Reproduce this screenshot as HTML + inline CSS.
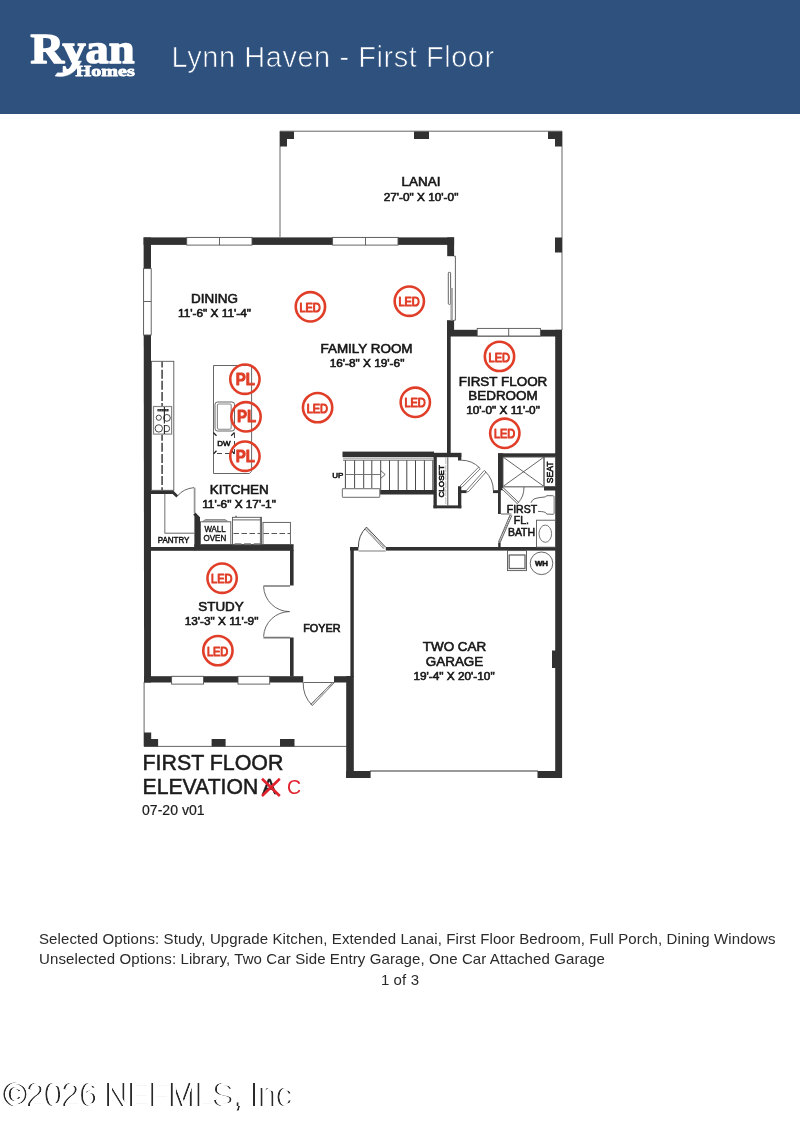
<!DOCTYPE html>
<html>
<head>
<meta charset="utf-8">
<title>Lynn Haven - First Floor</title>
<style>
  html, body { margin:0; padding:0; background:#fff; }
  body > * { will-change: transform; }
  body { width:800px; height:1147px; position:relative; overflow:hidden; font-family:"Liberation Sans", sans-serif; }
  #hdr { position:absolute; left:0; top:0; width:800px; height:114px; background:#2e517e; }
  #plan { position:absolute; left:0; top:0; width:800px; height:1147px; }
  .w { fill:#323132; }
  .t { fill:none; stroke:#555; stroke-width:0.9; }
  .tw { fill:#fff; stroke:#555; stroke-width:0.9; }
  .lbl { font-family:"Liberation Sans", sans-serif; fill:#161616; stroke:#161616; stroke-width:0.58; text-anchor:middle; }
  .red { stroke:#e03e28; fill:none; stroke-width:2.6; }
  .redt { font-family:"Liberation Sans", sans-serif; fill:#e03e28; stroke:#e03e28; stroke-width:1.2; font-size:13px; stroke-linejoin:round; }
  .foot { position:absolute; left:39px; font-size:15px; letter-spacing:0.11px; color:#2a2a2a; white-space:nowrap; line-height:20px; }
</style>
</head>
<body>
<div id="hdr"></div>
<svg id="plan" width="800" height="1147" viewBox="0 0 800 1147">
<!-- HEADER -->
<g id="logo" fill="#fff" stroke="#fff" stroke-linejoin="round" font-family="Liberation Serif, serif" font-weight="bold">
  <text x="30.6" y="62.6" font-size="42" stroke-width="1.5" textLength="104" lengthAdjust="spacingAndGlyphs">Ryan</text>
  <path d="M77 61 C72 69 66 73.6 57.5 72.8 L55 76 C66 78 75 74 81.5 61 Z" stroke-width="0.5"/>
  <text x="75.6" y="76" font-size="15.4" stroke-width="0.8" textLength="59.2" lengthAdjust="spacingAndGlyphs">Homes</text>
</g>
<text x="171.6" y="66.9" font-family="Liberation Sans, sans-serif" font-size="29" fill="#fff" stroke="#2e517e" stroke-width="0.7" textLength="322.6" lengthAdjust="spacing">Lynn Haven - First Floor</text>
<!-- PLAN-START -->
<!-- thin outline: lanai + porch -->
<g class="t">
  <path d="M280 237 V131.2 H562 V330"/>
  <path d="M144.1 682 V746.4 H347"/>
  <path d="M370 771 H538" stroke="#777" stroke-width="1.6"/>
</g>
<!-- WALLS -->
<g class="w">
  <!-- lanai posts -->
  <path d="M280 131.5 H294 V139 H287 V146.5 H280 Z"/>
  <rect x="414" y="131.5" width="15" height="7.5"/>
  <path d="M548 131.5 H562 V146.5 H555 V139 H548 Z"/>
  <rect x="555" y="237.5" width="7" height="15"/>
  <!-- main top wall -->
  <rect x="143.6" y="237.4" width="310.5" height="7.5"/>
  <!-- left wall -->
  <path d="M143.6 237.4 H151 V682.5 H144.1 Z"/>
  <!-- family room right wall -->
  <rect x="447.2" y="237.4" width="6.9" height="18.8"/>
  <rect x="447" y="320.2" width="7.1" height="10"/>
  <!-- bedroom walls -->
  <rect x="447" y="329.8" width="115" height="6.7"/>
  <rect x="447" y="336" width="3.7" height="117"/>
  <rect x="555.2" y="329.8" width="6.9" height="448.2"/>
  <!-- stair walls -->
  <rect x="342.5" y="451.6" width="91.5" height="5.6"/>
  <rect x="433.5" y="452.8" width="27.8" height="4.4"/>
  <rect x="380" y="490" width="54" height="4.5"/>
  <!-- closet -->
  <rect x="433.5" y="453" width="3.3" height="55.2"/>
  <rect x="433.5" y="505.4" width="27.8" height="2.9"/>
  <rect x="458" y="486.2" width="3.3" height="22"/>
  <rect x="458" y="490.2" width="8.6" height="2.9"/>
  <rect x="458" y="453" width="3.3" height="7.5"/>
  <!-- bath -->
  <rect x="498" y="453.3" width="58" height="3.8"/>
  <rect x="498" y="453.3" width="5" height="37"/>
  <rect x="498" y="490" width="2.8" height="24"/>
  <rect x="493" y="490.2" width="6" height="2.9"/>
  <rect x="544" y="486.5" width="12" height="4"/>
  <rect x="498.2" y="542.5" width="2.4" height="5"/>
  <!-- garage -->
  <rect x="350" y="547" width="212" height="3.6"/>
  <rect x="350.4" y="547" width="3.4" height="130"/>
  <rect x="346.2" y="676" width="7.6" height="102"/>
  <rect x="346.2" y="771" width="24.4" height="7"/>
  <rect x="537.5" y="771" width="24.5" height="7"/>
  <rect x="334" y="676.2" width="16.5" height="6.3"/>
  <rect x="552" y="650.5" width="4" height="17.5"/>
  <!-- kitchen/study wall -->
  <rect x="144.2" y="547" width="51" height="3.8"/>
  <rect x="194.4" y="544.2" width="99.2" height="6.6"/>
  <rect x="290" y="550" width="3.6" height="35.5"/>
  <rect x="290" y="637.5" width="3.6" height="39"/>
  <rect x="144.2" y="676.2" width="159" height="6.3"/>
  <!-- pantry -->
  <path d="M194.4 548 V516 L193.2 514.7 L195.4 512.6 L200 517.2 V548 Z"/>
  <path d="M150.8 490.4 H173.2 L178.2 495.6 L176.4 497.6 L172.6 494 H150.8 Z"/>
  <!-- porch posts -->
  <path d="M144 732.5 H151.2 V739 H158.1 V746.5 H144 Z"/>
  <rect x="211.6" y="739" width="14" height="7.5"/>
  <rect x="280" y="739" width="14.5" height="7.5"/>
</g>
<!-- WINDOWS / OPENINGS (white cutouts) -->
<g class="tw">
  <rect x="186.7" y="237.4" width="65.3" height="7.7"/><path d="M219.5 237.4 V245.1"/>
  <rect x="332.6" y="237.4" width="65.4" height="7.7"/><path d="M365.5 237.4 V245.1"/>
  <rect x="143.6" y="268.6" width="7.6" height="66.4"/><path d="M143.6 301.5 H151.2"/>
  <rect x="477.2" y="328.4" width="63.2" height="7.6"/><path d="M508.7 328.4 V336"/>
  <rect x="171.6" y="676.3" width="31.9" height="7.8"/>
  <rect x="238" y="676.3" width="31.7" height="7.8"/>
  <!-- sliding door -->
  <path d="M454 256.2 H455.4 V320.2 H454" fill="none"/>
  <rect x="448.3" y="272.3" width="2.3" height="32" rx="0.8"/>
  <rect x="450.8" y="288.2" width="1.9" height="32" fill="#aaa" stroke="#999" stroke-width="0.5"/>
</g>
<!-- PART2 -->
<!-- KITCHEN COUNTER + RANGE -->
<g class="t">
  <rect x="151.5" y="361.3" width="22.3" height="129"/>
  <path d="M162.1 361.5 V406.5" stroke-dasharray="9 2.1" stroke-dashoffset="2.9" stroke="#555" stroke-width="1.7"/>
  <path d="M162.1 434.4 V490.5" stroke-dasharray="9 2.1" stroke-dashoffset="2.7" stroke="#555" stroke-width="1.7"/>
  <rect x="153.5" y="406.5" width="18.1" height="27.6" fill="#fff" stroke="#888" stroke-width="1.2"/>
  <circle cx="158.8" cy="417.7" r="2.6" stroke="#333"/>
  <circle cx="166.9" cy="417.9" r="3.4" stroke="#333"/>
  <circle cx="158.8" cy="428.4" r="3.7" stroke="#333"/>
  <path d="M164.4 425.6 H167 A2.6 3 0 0 1 167 431.6 H164.4" stroke="#333"/>
  <path d="M157.4 410.2 H168.6" stroke="#333" stroke-width="2.4"/>
  <path d="M158.5 410.2 H168" stroke="#bbb" stroke-width="0.7" stroke-dasharray="1.2 1.2"/>
  <path d="M164.4 407 V423.5 M164.4 425 V434" stroke="#222" stroke-width="1.1"/>
</g>
<!-- ISLAND -->
<g class="t">
  <path d="M213.5 365.5 H251.6 V471.2 L249.4 473.5 H213.5 Z"/>
  <rect x="215" y="402" width="19.5" height="29" rx="2.5"/>
  <rect x="217.4" y="404" width="13.8" height="25.2" rx="1.5" stroke="#888" stroke-width="1.1"/>
  <path d="M213.3 432.5 L216.5 435.8 M234.5 432.5 L231.2 435.8 M213.6 453.7 L216.5 450.8 M234.5 453.7 L231.6 450.8" stroke="#222" stroke-width="1.3"/>
  <path d="M217 453.5 H234.5" stroke-dasharray="5 3" stroke="#333"/>
  <path d="M234.5 433 V453.5" stroke-dasharray="5 3" stroke="#333"/>
</g>
<text class="lbl" x="223.8" y="445.8" font-size="8" stroke-width="0.5">DW</text>
<!-- PANTRY -->
<g class="t">
  <path d="M164.8 494 V533.2" stroke="#888" stroke-width="1.2"/>
  <path d="M164.8 533.2 H194.5"/>
  <path d="M177.5 496 Q183 488.8 194 487.6" />
  <path d="M194.6 487.6 V513" stroke="#999" stroke-width="1.8"/>
</g>
<!-- WALL OVEN / FRIDGE -->
<g class="t">
  <rect x="200.5" y="521.8" width="30.3" height="22.7"/>
  <path d="M202.5 521.6 L205.5 519.5 H225 L228 521.6 Z" fill="#aaa" stroke="#777" stroke-width="0.7"/>
  <rect x="232.5" y="517.3" width="29" height="27.5"/>
  <path d="M232.5 519.9 H260.4"/>
  <path d="M260.4 517.3 V544.8"/>
  <path d="M236 517.3 V515.8" stroke-width="1.3"/>
  <path d="M233.5 533.5 H260" stroke-dasharray="5.5 2.5" stroke="#444"/>
  <path d="M234.5 544 H260" stroke-dasharray="6.9 2.7" stroke="#777" stroke-width="1.4"/>
  <rect x="263" y="522.4" width="27.4" height="22.1"/>
  <path d="M263.5 533.5 H290" stroke-dasharray="5.5 2.5" stroke="#444"/>
</g>
<!-- STUDY DOUBLE DOORS -->
<g class="t">
  <path d="M263.6 586.5 A26 26 0 0 0 289.6 611.6 A26 26 0 0 0 263.6 636.6"/>
  <path d="M263.4 586 H290 M263.4 637.6 H290" stroke="#777" stroke-width="1.7"/>
</g>
<!-- FRONT DOOR -->
<g class="t">
  <path d="M303.5 682.5 H334.5"/>
  <path d="M303.2 682.5 A31 31 0 0 0 312 705.2"/>
  <path d="M334 683 L312.3 705.6 L310.9 704.2 L332.4 682.5" stroke-width="0.8"/>
  <path d="M333 682.9 L311.6 704.9" stroke="#999" stroke-width="1.2" stroke-dasharray="0.8 0.8"/>
</g>
<!-- GARAGE ENTRY DOOR -->
<g class="tw">
  <rect x="358.4" y="546.5" width="27.4" height="4.8" stroke="none"/>
  <path d="M358.4 547.4 A27.6 27.6 0 0 1 366.5 527.1 L385.8 547.4" stroke="#333"/>
  <path d="M365.6 528.2 L384.6 548.3" stroke="#888" stroke-width="1.6" stroke-dasharray="0.8 0.8"/>
  <path d="M364.9 528.9 L383.6 548.8" stroke="#555" stroke-width="0.6"/>
  <path d="M358.6 551 H385.6" stroke="#999" stroke-width="1.3"/>
</g>
<!-- STAIRS -->
<g class="t">
  <path d="M343 458.4 H433.5" stroke="#999" stroke-width="0.8"/>
  <path d="M343 460.2 H433.5" stroke="#555"/>
  <path d="M345.4 460.3 V488.5 M354.6 460.3 V488.5 M363.7 460.3 V488.5 M371.8 460.3 V488.5 M380.7 460.3 V490 M389.5 460.3 V490 M398.2 460.3 V490 M406.8 460.3 V490 M415.5 460.3 V490 M424.4 460.3 V490 M432.8 460.3 V490" stroke="#484848" stroke-width="1"/>
  <path d="M345.4 474.5 H380.7" stroke="#666" stroke-width="0.9"/>
  <path d="M380.7 470.6 L385.2 474.5 L380.7 478.4" stroke="#555"/>
  <rect x="342.4" y="488.6" width="37.3" height="8.8" rx="0.8" fill="#fff" stroke="#888" stroke-width="1.2"/>
</g>
<text class="lbl" x="337.8" y="478" font-size="8" stroke-width="0.4">UP</text>
<!-- CLOSET -->
<g class="t">
  <path d="M445.8 457.2 V505.5" stroke="#aaa" stroke-width="0.8" stroke-dasharray="7 1"/>
  <path d="M447.8 457.2 V505.5" stroke="#444" stroke-width="0.9"/>
  <path d="M461.2 460.2 A26 26 0 0 1 479.6 467.8"/>
  <path d="M485 471.2 A27 27 0 0 1 493.4 490.6"/>
  <path d="M460.2 485.8 L478.6 467.2 L480.3 468.8 L461.8 487.4 Z" fill="#fff" stroke-width="0.8"/>
  <path d="M466.3 490.6 L484.3 470.4 L486 472 L468 492.2 Z" fill="#fff" stroke-width="0.8"/>
</g>
<text class="lbl" transform="translate(444.2,481.3) rotate(-90)" font-size="8.1" stroke-width="0.4">CLOSET</text>
<!-- BATH -->
<g class="t">
  <rect x="503" y="457" width="41" height="29.5"/>
  <path d="M503 457 L544 486.5 M544 457 L503 486.5"/>
  <rect x="544" y="457" width="11.5" height="29.5"/>
  <path d="M503 486.7 H544" stroke="#888" stroke-width="1.6"/>
  <path d="M524 487 Q524 497 518 502.8"/>
  <path d="M503 487.5 L518.5 502.3 L517.3 503.6 L502 489" fill="#fff"/>
  <path d="M501 514 H511.5"/>
  <path d="M511.8 515.5 L500.2 542.5 L498.6 541.8 L510 515" fill="#fff"/>
  <path d="M510.9 515.2 L499.4 542.2" stroke-dasharray="1 1.2" stroke-width="1.6" stroke="#777"/>
  <!-- toilet -->
  <path d="M531 502.8 Q531.8 500.2 534 499 Q537 497.9 540.1 497.5 L545.4 496.9 Q546 495.9 547 495.7 H552.8 Q554 495.8 554.2 496.8 M538 511.4 L541.8 511.6 Q544 511.8 545.6 512.6 Q546.2 513.8 547 514.1 L553 514.3 Q554 514.2 554.2 513.4" stroke="#555"/>
  <path d="M554.2 496.8 V513.6" stroke="#aaa" stroke-width="1.6"/>
  <!-- vanity -->
  <rect x="536.5" y="520.2" width="19" height="27"/>
  <ellipse cx="545.3" cy="533.7" rx="6.3" ry="8.6" stroke="#666"/>
  <!-- utility box + WH -->
  <rect x="507.5" y="550.6" width="19" height="20"/>
  <rect x="509.2" y="555" width="15.8" height="13.5" stroke="#666" stroke-width="1.3"/>
  <circle cx="541.5" cy="563.3" r="11.3"/>
</g>
<text class="lbl" transform="translate(553.1,472.3) rotate(-90)" font-size="8.6" stroke-width="0.55">SEAT</text>
<text class="lbl" x="541.5" y="566.2" font-size="7.8" font-weight="bold" stroke-width="0">WH</text>
<!-- ROOM LABELS -->
<g class="lbl">
  <text transform="translate(421 186) scale(1.085 1)" font-size="12.4">LANAI</text>
  <text transform="translate(421 200.5) scale(1.085 1)" font-size="10.9">27'-0&quot; X 10'-0&quot;</text>
  <text transform="translate(214.5 302.5) scale(1.085 1)" font-size="12.4">DINING</text>
  <text transform="translate(214.5 316.5) scale(1.085 1)" font-size="10.9">11'-6&quot; X 11'-4&quot;</text>
  <text transform="translate(366.5 352.5) scale(1.085 1)" font-size="12.4">FAMILY ROOM</text>
  <text transform="translate(367 366.5) scale(1.085 1)" font-size="10.9">16'-8&quot; X 19'-6&quot;</text>
  <text transform="translate(503 385.5) scale(1.085 1)" font-size="12.4">FIRST FLOOR</text>
  <text transform="translate(503 400) scale(1.085 1)" font-size="12.4">BEDROOM</text>
  <text transform="translate(503 414) scale(1.085 1)" font-size="10.9">10'-0&quot; X 11'-0&quot;</text>
  <text transform="translate(239.3 494) scale(1.085 1)" font-size="12.4">KITCHEN</text>
  <text transform="translate(239 508) scale(1.085 1)" font-size="10.9">11'-6&quot; X 17'-1&quot;</text>
  <text transform="translate(221 611) scale(1.085 1)" font-size="12.4">STUDY</text>
  <text transform="translate(221.5 625) scale(1.085 1)" font-size="10.9">13'-3&quot; X 11'-9&quot;</text>
  <text transform="translate(321.8 632.3) scale(1.085 1)" font-size="10">FOYER</text>
  <text transform="translate(454.5 651) scale(1.085 1)" font-size="12.4">TWO CAR</text>
  <text transform="translate(454.5 666) scale(1.085 1)" font-size="12.4">GARAGE</text>
  <text transform="translate(454 680) scale(1.085 1)" font-size="10.9">19'-4&quot; X 20'-10&quot;</text>
  <text transform="translate(521.9 512.5) scale(1.0 1)" font-size="10.5" stroke-width="0.55">FIRST</text>
  <text transform="translate(521.3 524) scale(1.0 1)" font-size="10.5" stroke-width="0.55">FL.</text>
  <text transform="translate(521.5 536) scale(1.0 1)" font-size="10.5" stroke-width="0.55">BATH</text>
  <text transform="translate(173.6 542.7) scale(0.975 1)" font-size="8.2" stroke-width="0.45">PANTRY</text>
  <text transform="translate(215 531.5) scale(0.94 1)" font-size="8.4" stroke-width="0.4">WALL</text>
  <text transform="translate(214.9 541) scale(0.95 1)" font-size="8.4" stroke-width="0.4">OVEN</text>
</g>
<!-- BIG LABELS -->
<g font-family="Liberation Sans, sans-serif" fill="#1c1c1c" stroke="#1c1c1c" stroke-width="0.5">
  <text x="142.5" y="770.3" font-size="21.2" textLength="140.9" lengthAdjust="spacingAndGlyphs">FIRST FLOOR</text>
  <text x="142.6" y="793.7" font-size="21.2" textLength="115.6" lengthAdjust="spacingAndGlyphs">ELEVATION</text>
  <text x="262.2" y="793.7" font-size="21.2">A</text>
  <text x="142" y="814.8" font-size="14" stroke-width="0.2" textLength="62.6" lengthAdjust="spacingAndGlyphs">07-20 v01</text>
</g>
<path d="M262 778.8 L279.8 796 M279.8 778.8 L262 796" stroke="#e0222e" stroke-width="2.6" fill="none"/>
<text x="287" y="793.7" font-family="Liberation Sans, sans-serif" font-size="19.5" fill="#e0222e">C</text>
<!-- LED / PL MARKERS -->
<g class="red">
  <circle cx="310.4" cy="306.8" r="14.65"/>
  <circle cx="409.3" cy="301.2" r="14.65"/>
  <circle cx="317.6" cy="407.6" r="14.65"/>
  <circle cx="415.3" cy="402.3" r="14.65"/>
  <circle cx="499.5" cy="356.4" r="14.65"/>
  <circle cx="504.8" cy="433.3" r="14.65"/>
  <circle cx="222.1" cy="578.2" r="14.65"/>
  <circle cx="217.9" cy="650.6" r="14.65"/>
  <circle cx="244.9" cy="379.2" r="14.65"/>
  <circle cx="246" cy="416.8" r="14.65"/>
  <circle cx="244.9" cy="456.2" r="14.65"/>
</g>
<g class="redt">
  <text x="299.4" y="311.9" font-size="13.4" textLength="21.3" lengthAdjust="spacingAndGlyphs">LED</text>
  <text x="398.4" y="306.3" font-size="13.4" textLength="21.3" lengthAdjust="spacingAndGlyphs">LED</text>
  <text x="306.7" y="412.8" font-size="13.4" textLength="21.3" lengthAdjust="spacingAndGlyphs">LED</text>
  <text x="404.4" y="407.4" font-size="13.4" textLength="21.3" lengthAdjust="spacingAndGlyphs">LED</text>
  <text x="488.6" y="361.5" font-size="13.4" textLength="21.3" lengthAdjust="spacingAndGlyphs">LED</text>
  <text x="493.9" y="438.4" font-size="13.4" textLength="21.3" lengthAdjust="spacingAndGlyphs">LED</text>
  <text x="211.1" y="583.4" font-size="13.4" textLength="21.3" lengthAdjust="spacingAndGlyphs">LED</text>
  <text x="206.9" y="655.8" font-size="13.4" textLength="21.3" lengthAdjust="spacingAndGlyphs">LED</text>
  <text x="235.8" y="384.8" font-size="16.7" font-weight="bold" stroke-width="0.9" textLength="19.2" lengthAdjust="spacingAndGlyphs">PL</text>
  <text x="236.9" y="422.4" font-size="16.7" font-weight="bold" stroke-width="0.9" textLength="19.2" lengthAdjust="spacingAndGlyphs">PL</text>
  <text x="235.8" y="461.9" font-size="16.7" font-weight="bold" stroke-width="0.9" textLength="19.2" lengthAdjust="spacingAndGlyphs">PL</text>
</g>
<!-- PLAN-END -->
</svg>
<div class="foot" style="top:929px;">Selected Options: Study, Upgrade Kitchen, Extended Lanai, First Floor Bedroom, Full Porch, Dining Windows</div>
<div class="foot" style="top:949px;">Unselected Options: Library, Two Car Side Entry Garage, One Car Attached Garage</div>
<div class="foot" style="top:969.5px; left:0; width:800px; text-align:center;">1 of 3</div>
<div id="wm" style="position:absolute; left:4.9px; top:1076.5px; font-size:32.5px; letter-spacing:-0.42px; word-spacing:-1.2px; color:#fff; text-shadow:0 0.3px 0 #fff, 0 -0.3px 0 #fff, -2px 0 0 #2a2a2a; white-space:nowrap; line-height:36px;">©2026 NEFMLS, Inc</div>
</body>
</html>
